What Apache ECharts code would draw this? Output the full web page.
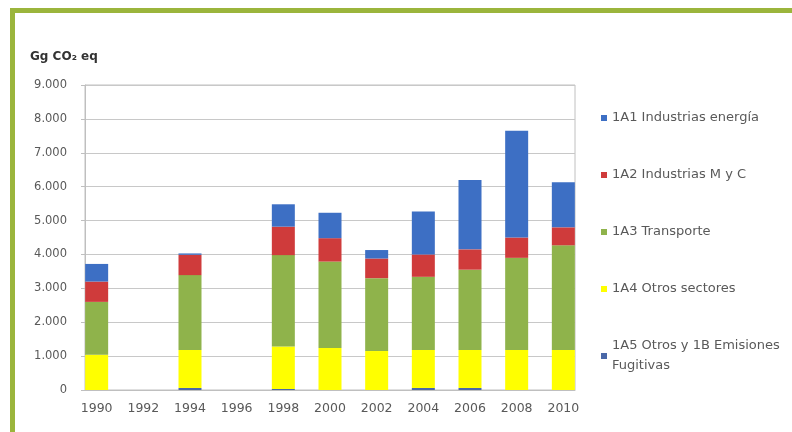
<!DOCTYPE html>
<html>
<head>
<meta charset="utf-8">
<script src="https://cdn.jsdelivr.net/npm/echarts@6/dist/echarts.min.js"></script>
<style>
html,body{margin:0;padding:0;background:#fff;}
#frame{position:absolute;left:10px;top:8px;width:782px;height:424px;border-top:5px solid #9bb53c;border-left:5px solid #9bb53c;box-sizing:border-box;}
#chart{position:absolute;left:0;top:0;width:792px;height:432px;}
</style>
</head>
<body>
<div id="frame"></div>
<div id="chart"></div>
<script>
// Data (Gg CO2 eq)
const years = [1990, 1992, 1994, 1996, 1998, 2000, 2002, 2004, 2006, 2008, 2010];
const s1A1 = [520, null, 40, null, 660, 750, 250, 1270, 2050, 3150, 1330];
const s1A2 = [600, null, 600, null, 840, 690, 580, 660, 600, 600, 530];
const s1A3 = [1560, null, 2210, null, 2700, 2550, 2150, 2160, 2370, 2720, 3090];
const s1A4 = [1040, null, 1120, null, 1250, 1240, 1150, 1120, 1120, 1180, 1180];
const s1A5 = [0, null, 60, null, 30, 0, 0, 60, 60, 0, 0];
const seriesNames = ['1A1 Industrias energía', '1A2 Industrias M y C', '1A3 Transporte', '1A4 Otros sectores', '1A5 Otros y 1B Emisiones\nFugitivas'];
const colors = ['#3d6fc4', '#cf3b3b', '#8fb34b', '#ffff00', '#4a68a8'];
const title = 'Gg CO₂ eq';

const font = 'DejaVu Sans';
function fmt(v) {
  if (v < 1000) return String(v);
  return Math.floor(v / 1000) + '.' + String(v % 1000).padStart(3, '0');
}

const stackOrder = [
  [seriesNames[4], s1A5, colors[4]],
  [seriesNames[3], s1A4, colors[3]],
  [seriesNames[2], s1A3, colors[2]],
  [seriesNames[1], s1A2, colors[1]],
  [seriesNames[0], s1A1, colors[0]]
];

const chart = echarts.init(document.getElementById('chart'), null, {renderer: 'canvas'});
chart.setOption({
  backgroundColor: 'transparent',
  animation: false,
  title: {
    text: title, left: 30, top: 51, padding: 0,
    textStyle: {fontFamily: font, fontSize: 12, fontWeight: 'bold', color: '#333'}
  },
  legend: {
    data: seriesNames,
    orient: 'vertical', left: 601, top: 108, padding: 0,
    itemGap: 37, itemWidth: 6, itemHeight: 6, icon: 'rect',
    textStyle: {fontFamily: font, fontSize: 13, lineHeight: 20, color: '#595959'}
  },
  grid: [
    // visible plot frame (axis range 1989.5 .. 2010.5)
    {left: 85, right: 217, top: 85, bottom: 42,
     show: true, borderColor: '#c0c0c0', borderWidth: 1, backgroundColor: 'transparent'},
    // category band grid for the bars (same scale: one band = 2 years)
    {left: 73.33, right: 205.33, top: 85, bottom: 42}
  ],
  xAxis: [
    {
      gridIndex: 0, type: 'value', min: 1989.5, max: 2010.5,
      axisLine: {show: true, lineStyle: {color: '#bfbfbf'}},
      axisTick: {show: false},
      splitLine: {show: false},
      axisLabel: {
        customValues: years, formatter: v => String(v), margin: 12,
        fontFamily: font, fontSize: 12.5, color: '#595959'
      }
    },
    {
      gridIndex: 1, type: 'category', data: years.map(String), boundaryGap: true,
      axisLine: {show: false}, axisTick: {show: false}, axisLabel: {show: false}, splitLine: {show: false}
    }
  ],
  yAxis: [
    {
      gridIndex: 0, type: 'value', min: 0, max: 9000, interval: 1000,
      axisLine: {show: true, lineStyle: {color: '#bfbfbf'}},
      axisTick: {show: true, length: 4, lineStyle: {color: '#bfbfbf'}},
      splitLine: {show: true, lineStyle: {color: '#c8c8c8'}},
      axisLabel: {
        formatter: v => fmt(v), margin: 18,
        fontFamily: font, fontSize: 11.5, color: '#595959'
      }
    },
    {
      gridIndex: 1, type: 'value', min: 0, max: 9000, interval: 1000,
      axisLine: {show: false}, axisTick: {show: false}, axisLabel: {show: false}, splitLine: {show: false}
    }
  ],
  series: stackOrder.map(([name, arr, color]) => ({
    name: name, type: 'bar', stack: 'total', barWidth: 23,
    xAxisIndex: 1, yAxisIndex: 1,
    itemStyle: {color: color},
    data: arr
  }))
});
</script>
</body>
</html>
